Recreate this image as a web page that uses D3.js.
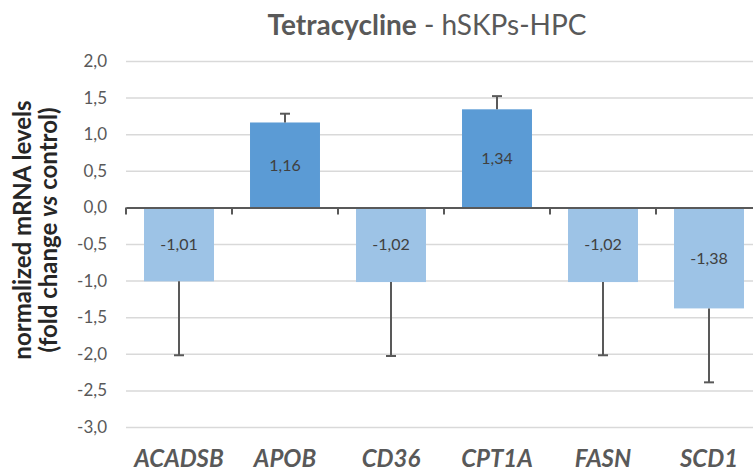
<!DOCTYPE html>
<html>
<head>
<meta charset="utf-8">
<script src="https://cdn.jsdelivr.net/npm/d3@7"></script>
<style>
  body { margin: 0; background: #fff; }
  svg { font-family: Lato, "Open Sans", sans-serif; }
</style>
</head>
<body>
<svg id="chart" width="753" height="472"></svg>
<script>
// values
var genes = ['ACADSB', 'APOB', 'CD36', 'CPT1A', 'FASN', 'SCD1'];
var foldChange = [-1.01, 1.16, -1.02, 1.34, -1.02, -1.38];
var errors = [1.01, 0.12, 1.01, 0.18, 1.0, 1.01];
var yTicks = [2, 1.5, 1, 0.5, 0, -0.5, -1, -1.5, -2, -2.5, -3];

var svg = d3.select('#chart');
var plotLeft = 126, plotRight = 762, plotTop = 61, plotBottom = 427;

var x = d3.scaleBand()
    .domain(genes)
    .range([plotLeft, plotRight])
    .paddingInner(0.34)
    .paddingOuter(0.17);

var y = d3.scaleLinear()
    .domain([-3, 2])
    .range([plotBottom, plotTop]);

var fmt = function(v, digits) { return v.toFixed(digits).replace('.', ','); };

// gridlines + y labels
var yAxis = d3.axisLeft(y)
    .tickValues(yTicks)
    .tickSize(-(plotRight - plotLeft))
    .tickPadding(19)
    .tickFormat(function(d) { return fmt(d, 1); });

var gy = svg.append('g')
    .attr('transform', 'translate(' + plotLeft + ',0)')
    .call(yAxis);
gy.select('.domain').remove();
gy.selectAll('.tick line')
    .attr('stroke', '#d9d9d9')
    .attr('stroke-width', 1.5);
gy.selectAll('.tick text')
    .attr('fill', '#595959')
    .attr('font-family', 'Lato, sans-serif')
    .attr('font-size', 17);

var data = genes.map(function(g, i) {
    return { gene: g, value: foldChange[i], err: errors[i] };
});

// bars
svg.selectAll('rect.bar')
    .data(data)
    .enter().append('rect')
    .attr('class', 'bar')
    .attr('x', function(d) { return x(d.gene); })
    .attr('width', x.bandwidth())
    .attr('y', function(d) { return y(Math.max(0, d.value)); })
    .attr('height', function(d) { return Math.abs(y(d.value) - y(0)); })
    .attr('fill', function(d) { return d.value > 0 ? '#5b9bd5' : '#9dc3e6'; });

// error bars (one-sided, away from zero)
var eb = svg.selectAll('g.err')
    .data(data)
    .enter().append('g')
    .attr('class', 'err')
    .attr('stroke', '#595959')
    .attr('stroke-width', 2);
eb.append('line')
    .attr('x1', function(d) { return x(d.gene) + x.bandwidth() / 2; })
    .attr('x2', function(d) { return x(d.gene) + x.bandwidth() / 2; })
    .attr('y1', function(d) { return y(d.value); })
    .attr('y2', function(d) { return y(d.value + Math.sign(d.value) * d.err); });
eb.append('line')
    .attr('x1', function(d) { return x(d.gene) + x.bandwidth() / 2 - 5; })
    .attr('x2', function(d) { return x(d.gene) + x.bandwidth() / 2 + 5; })
    .attr('y1', function(d) { return y(d.value + Math.sign(d.value) * d.err); })
    .attr('y2', function(d) { return y(d.value + Math.sign(d.value) * d.err); });

// data labels
svg.selectAll('text.lbl')
    .data(data)
    .enter().append('text')
    .attr('class', 'lbl')
    .attr('x', function(d) { return x(d.gene) + x.bandwidth() / 2; })
    .attr('y', function(d) { return (y(d.value) + y(0)) / 2; })
    .attr('dy', '0.35em')
    .attr('text-anchor', 'middle')
    .attr('font-size', 16)
    .attr('fill', '#404040')
    .text(function(d) { return fmt(d.value, 2); });

// zero axis with ticks between categories
var xAxis = d3.axisBottom(x).tickSize(0).tickFormat('');
var gx = svg.append('g')
    .attr('transform', 'translate(0,' + y(0) + ')')
    .call(xAxis);
gx.select('.domain').attr('stroke', '#595959').attr('stroke-width', 2);
gx.selectAll('.tick').remove();
var sep = d3.range(genes.length + 1).map(function(i) { return plotLeft + i * x.step(); });
gx.selectAll('line.sep')
    .data(sep)
    .enter().append('line')
    .attr('class', 'sep')
    .attr('x1', function(d) { return d; })
    .attr('x2', function(d) { return d; })
    .attr('y1', 0)
    .attr('y2', 7)
    .attr('stroke', '#595959')
    .attr('stroke-width', 2);

// category labels at the bottom
svg.selectAll('text.cat')
    .data(genes)
    .enter().append('text')
    .attr('class', 'cat')
    .attr('x', function(d) { return x(d) + x.bandwidth() / 2; })
    .attr('y', 467)
    .attr('text-anchor', 'middle')
    .attr('font-size', 24)
    .attr('font-weight', 'bold')
    .attr('font-style', 'italic')
    .attr('fill', '#595959')
    .text(function(d) { return d; });

// title
var title = svg.append('text')
    .attr('x', 427)
    .attr('y', 35)
    .attr('text-anchor', 'middle')
    .attr('font-size', 28)
    .attr('fill', '#595959');
title.append('tspan').attr('font-weight', 'bold').text('Tetracycline');
title.append('tspan').text(' - hSKPs-HPC');

// y axis title
var yt = svg.append('text')
    .attr('transform', 'translate(31,230) rotate(-90)')
    .attr('text-anchor', 'middle')
    .attr('font-size', 24)
    .attr('font-weight', 'bold')
    .attr('fill', '#262626');
yt.append('tspan').attr('x', 0).attr('dy', 0).text('normalized mRNA levels');
var l2 = yt.append('tspan').attr('x', 0).attr('dy', 26);
l2.append('tspan').text('(fold change ');
l2.append('tspan').attr('font-style', 'italic').text('vs');
l2.append('tspan').text(' control)');
</script>
</body>
</html>
